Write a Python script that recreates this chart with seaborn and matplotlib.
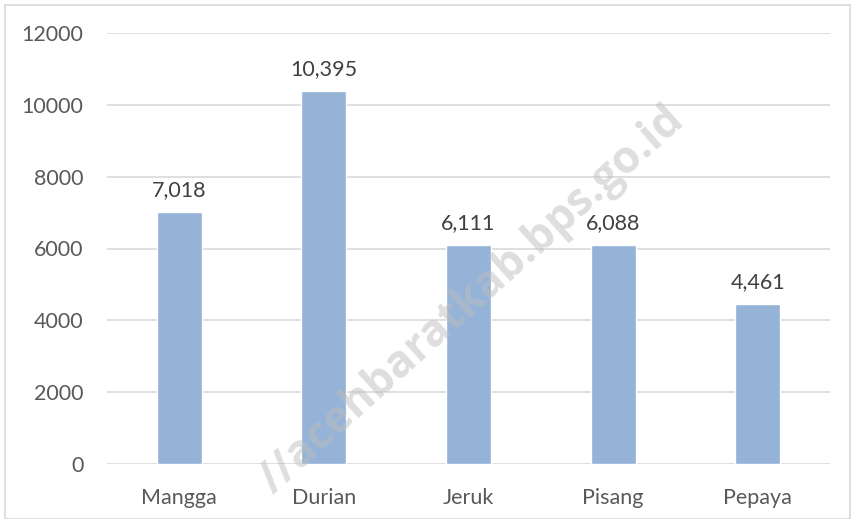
import matplotlib
matplotlib.use("Agg")
import matplotlib.pyplot as plt
import seaborn as sns
import pandas as pd

categories = ["Mangga", "Durian", "Jeruk", "Pisang", "Pepaya"]
values = [7018, 10395, 6111, 6088, 4461]
yticks = [0, 2000, 4000, 6000, 8000, 10000, 12000]

df = pd.DataFrame({"buah": categories, "produksi": values})

sns.set_theme(style="white")
plt.rcParams["font.family"] = ["Lato", "DejaVu Sans"]

fig = plt.figure(figsize=(8.54, 5.19), dpi=100)
ax = fig.add_axes([107 / 854, 1 - 464 / 519, 723 / 854, 431 / 519])

sns.barplot(data=df, x="buah", y="produksi", color="#95B3D7", width=0.31,
            saturation=1, ax=ax, zorder=2)

ax.set_ylim(0, 12000)
ax.set_yticks(yticks)
ax.set_yticklabels([str(t) for t in yticks])
ax.set_xlim(-0.5, 4.5)
ax.grid(axis="y", color="#D9D9D9", linewidth=1.2, zorder=0)
ax.set_axisbelow(True)
for s in ax.spines.values():
    s.set_visible(False)
ax.tick_params(axis="both", length=0, labelsize=15.5, colors="#595959")
ax.tick_params(axis="y", pad=17)
ax.tick_params(axis="x", pad=17)
ax.set_xlabel("")
ax.set_ylabel("")

for i, v in enumerate(values):
    ax.text(i, v + 330, f"{v:,}", ha="center", va="bottom", fontsize=15.5, color="#404040")

# watermark
fig.text(472 / 854, 1 - 300 / 519, "//acehbaratkab.bps.go.id", rotation=42, fontsize=32,
         family=["Open Sans", "DejaVu Sans"], fontweight="bold", color="#BDBDBD",
         alpha=0.5, ha="center", va="center", rotation_mode="anchor")

# outer border
fig.patches.append(plt.Rectangle((5 / 854, 0), 845 / 854, 1 - 5 / 519, transform=fig.transFigure,
                                 fill=False, edgecolor="#D9D9D9", linewidth=1.2))

fig.savefig("out.png", dpi=100)
